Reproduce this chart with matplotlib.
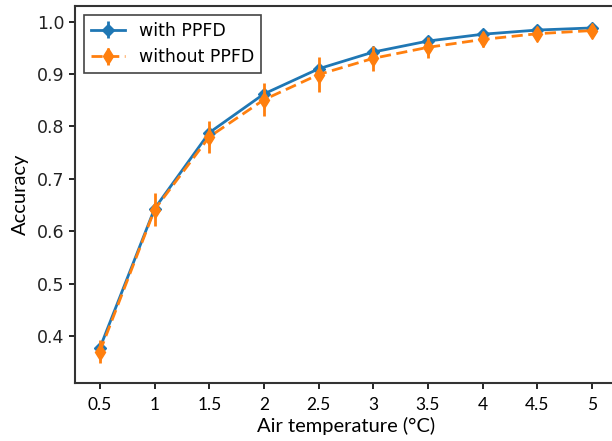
import matplotlib
matplotlib.use("Agg")
import matplotlib.pyplot as plt

temps = [0.5, 1, 1.5, 2, 2.5, 3, 3.5, 4, 4.5, 5]
acc_with = [0.377, 0.643, 0.788, 0.862, 0.910, 0.942, 0.963, 0.976, 0.984, 0.988]
err_with = [0.008, 0.008, 0.008, 0.008, 0.006, 0.005, 0.004, 0.003, 0.003, 0.003]
acc_without = [0.370, 0.641, 0.780, 0.851, 0.899, 0.930, 0.951, 0.966, 0.977, 0.983]
err_without = [0.022, 0.032, 0.030, 0.032, 0.033, 0.024, 0.020, 0.015, 0.012, 0.010]
xtick_labels = ["0.5", "1", "1.5", "2", "2.5", "3", "3.5", "4", "4.5", "5"]
yticks = [0.4, 0.5, 0.6, 0.7, 0.8, 0.9, 1.0]

fig = plt.figure(figsize=(6.12, 4.41), dpi=100)
ax = fig.add_axes([0.1225, 0.1315, 0.885, 0.855])

ax.errorbar(temps, acc_with, yerr=err_with, color="#1f77b4", marker="D",
            markersize=6.5, linewidth=2, elinewidth=2, label="with PPFD", zorder=3)
ax.errorbar(temps, acc_without, yerr=err_without, color="#ff7f0e", marker="d",
            markersize=8, linewidth=2, elinewidth=2, linestyle="--",
            dashes=(4, 2), label="without PPFD", zorder=4)

ax.set_xticks(temps)
ax.set_xticklabels(xtick_labels, fontfamily="Lato", fontsize=12.5)
ax.set_yticks(yticks)
ax.set_yticklabels(["%.1f" % v for v in yticks], fontsize=12.5, color="#222222")
ax.set_xlim(0.272, 5.225)
ax.set_ylim(0.31, 1.03)
ax.tick_params(direction="out", length=4, width=1.2)
ax.tick_params(axis="x", pad=6)
for s in ax.spines.values():
    s.set_linewidth(1.5)
    s.set_color("#333333")

ax.set_xlabel("Air temperature (°C)", fontfamily="Lato", fontsize=14.5, labelpad=3)
ax.set_ylabel("Accuracy", fontfamily="Lato", fontsize=14.5, labelpad=6)

leg = ax.legend(loc="upper left", fontsize=12.5, fancybox=False, edgecolor="#444444",
                borderpad=0.4, handlelength=2.0, framealpha=1)
leg.get_frame().set_linewidth(1.2)

fig.savefig("out.png", dpi=100)
